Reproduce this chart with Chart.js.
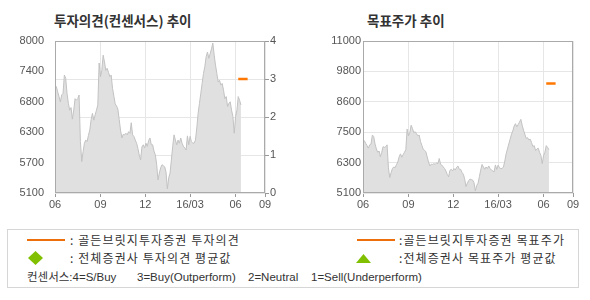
<!DOCTYPE html>
<html>
<head>
<meta charset="utf-8">
<script src="https://cdn.jsdelivr.net/npm/chart.js@4.4.1/dist/chart.umd.min.js"></script>
<style>
    body { margin: 0; background: #fff; width: 590px; height: 300px; position: relative; overflow: hidden; }
    .abs { position: absolute; white-space: pre; }
    .title { font: bold 13.5px "Noto Sans CJK KR", sans-serif; color: #333; top: 12px; line-height: 17px; }
    .legend-box { left: 7px; top: 229px; width: 570px; height: 57px; border: 1px solid #d6d6d6; }
    .leg { font: 12px "Noto Sans CJK KR", sans-serif; color: #333; line-height: 16px; letter-spacing: 1.1px; }
    .cons { font: 11.5px "Liberation Sans", "Noto Sans CJK KR", sans-serif; color: #333; line-height: 16px; top: 269px; }
    .line { height: 2px; width: 38px; background: #ec6f0c; top: 239px; }
</style>
</head>
<body>
<div class="abs title" style="left:54px">투자의견(컨센서스) 추이</div>
<div class="abs title" style="left:367px">목표주가 추이</div>

<div class="abs" style="left:0;top:0"><canvas id="opinionChart" width="295" height="215"></canvas></div>
<div class="abs" style="left:295px;top:0"><canvas id="targetChart" width="295" height="215"></canvas></div>

<div class="abs legend-box"></div>
<div class="abs line" style="left:27px"></div>
<div class="abs leg" style="left:70px;top:232px">: 골든브릿지투자증권 투자의견</div>
<div class="abs" style="left:28px;top:251px;width:15px;height:14px;background:#80c000;clip-path:polygon(50% 0,100% 50%,50% 100%,0 50%)"></div>
<div class="abs leg" style="left:70px;top:250px">: 전체증권사 투자의견 평균값</div>
<div class="abs line" style="left:357px"></div>
<div class="abs leg" style="left:399px;top:232px">:골든브릿지투자증권 목표주가</div>
<div class="abs" style="left:356px;top:254px;width:15px;height:9px;background:#80c000;clip-path:polygon(50% 0,100% 100%,0 100%)"></div>
<div class="abs leg" style="left:399px;top:250px">:전체증권사 목표주가 평균값</div>
<div class="abs cons" style="left:27px">컨센서스:4=S/Buy</div>
<div class="abs cons" style="left:137px">3=Buy(Outperform)</div>
<div class="abs cons" style="left:248px">2=Neutral</div>
<div class="abs cons" style="left:311px">1=Sell(Underperform)</div>

<script>
// x axis labels (months) and their positions on the trading-day index
const xLabels = ['06', '09', '12', '16/03', '06', '09'];
const xTickIdx = [0, 34, 67.5, 101, 135, 157];

// daily close prices (one value per trading day)
const prices = [
    7100, 7130, 7030, 6940, 6840, 6970, 7000, 7350, 7290, 7000,
    6810, 6680, 6730, 6510, 6680, 6900, 6870, 6900, 6970, 6080,
    5700, 5890, 6050, 6110, 6080, 6200, 6300, 6500, 6620, 6490,
    6590, 6680, 6780, 7580, 7320, 7440, 7730, 7600, 7440, 7480,
    7400, 7320, 7350, 7100, 6950, 6800, 6760, 6700, 6500, 6300,
    6150, 6220, 6210, 6240, 6210, 6270, 6240, 6440, 6210, 6180,
    6110, 6050, 5950, 5820, 5730, 5980, 6020, 5960, 6050, 5990,
    6100, 6150, 6020, 6020, 5900, 5830, 5650, 5350, 5480, 5580,
    5640, 5620, 5600, 5500, 5180, 5390, 5480, 5730, 5990, 6210,
    6110, 6020, 6110, 6050, 6150, 6050, 5990, 5960, 5920, 6190,
    6020, 6180, 6080, 6050, 6050, 6110, 6340, 6620, 6810, 7000,
    7190, 7380, 7510, 7700, 7790, 7670, 7760, 7850, 7960, 7730,
    7540, 7380, 7220, 7250, 7160, 7190, 7060, 6900, 6940, 6750,
    6810, 6840, 6680, 6560, 6240, 6560, 6680, 6940, 6870, 6780
];

// Goldenbridge opinion / target price marks
const markIdx = [137, 144];
const opinionMark = [3, 3];
const targetMark = [9350, 9350];

// axis ticks
const priceTicksLeft = [5100, 5680, 6260, 6840, 7420, 8000];
const opinionTicks = [0, 1, 2, 3, 4];
const targetTicks = [5100, 6280, 7460, 8640, 9820, 11000];

Chart.defaults.font.family = '"Liberation Sans", Arial, sans-serif';
Chart.defaults.font.size = 11;
Chart.defaults.color = '#555';

const pricePoints = prices.map((v, i) => ({ x: i, y: v }));

// frame around plot area
const framePlugin = {
    id: 'frame',
    afterDraw(chart) {
        const a = chart.chartArea;
        const c = chart.ctx;
        c.save();
        c.strokeStyle = '#aaaaaa';
        c.lineWidth = 1;
        c.strokeRect(Math.round(a.left) + 0.5, Math.round(a.top) + 0.5,
            Math.round(a.right - a.left) - 1, Math.round(a.bottom - a.top) - 1);
        c.restore();
    }
};

function roundLabel(v) {
    return Math.round(v / 100) * 100;
}

function xAxis() {
    return {
        type: 'linear',
        min: 0,
        max: 157,
        afterBuildTicks: s => { s.ticks = xTickIdx.map(v => ({ value: v })); },
        afterFit: s => { s.height = 22; },
        ticks: {
            padding: 1,
            maxRotation: 0,
            autoSkip: false,
            callback: (v, i) => xLabels[i]
        },
        grid: { color: '#e6e6e6', tickLength: 4, tickColor: '#999' },
        border: { display: false }
    };
}

const areaStyle = {
    borderColor: '#c2c2c2',
    borderWidth: 1,
    backgroundColor: '#e0e0e0',
    fill: 'start',
    pointRadius: 0,
    tension: 0
};

const markStyle = {
    borderColor: '#ff7700',
    borderWidth: 2.5,
    pointRadius: 0,
    fill: false
};

// Opinion (consensus) chart
const opinionCtx = document.getElementById('opinionChart').getContext('2d');
const opinionChart = new Chart(opinionCtx, {
    type: 'line',
    data: {
        datasets: [
            Object.assign({ label: '주가', data: pricePoints, yAxisID: 'y', order: 2 }, areaStyle),
            Object.assign({
                label: '투자의견',
                data: markIdx.map((x, i) => ({ x: x, y: opinionMark[i] })),
                yAxisID: 'y1',
                order: 1
            }, markStyle)
        ]
    },
    options: {
        responsive: false,
        animation: false,
        layout: { padding: { top: 41, left: 0, right: 0, bottom: 0 } },
        plugins: { legend: { display: false }, tooltip: { enabled: false } },
        scales: {
            x: xAxis(),
            y: {
                position: 'left',
                min: 5100,
                max: 8000,
                afterBuildTicks: s => { s.ticks = priceTicksLeft.map(v => ({ value: v })); },
                afterFit: s => { s.width = 55; },
                ticks: { padding: 3, callback: v => roundLabel(v) },
                grid: { display: false },
                border: { display: false }
            },
            y1: {
                position: 'right',
                min: 0,
                max: 4,
                afterBuildTicks: s => { s.ticks = opinionTicks.map(v => ({ value: v })); },
                afterFit: s => { s.width = 30; },
                ticks: { padding: 1 },
                grid: { color: '#e6e6e6', tickLength: 4, tickColor: '#999' },
                border: { display: false }
            }
        }
    },
    plugins: [framePlugin]
});

// Target price chart
const targetCtx = document.getElementById('targetChart').getContext('2d');
const targetChart = new Chart(targetCtx, {
    type: 'line',
    data: {
        datasets: [
            Object.assign({ label: '주가', data: pricePoints, order: 2 }, areaStyle),
            Object.assign({
                label: '목표주가',
                data: markIdx.map((x, i) => ({ x: x, y: targetMark[i] })),
                order: 1
            }, markStyle)
        ]
    },
    options: {
        responsive: false,
        animation: false,
        layout: { padding: { top: 41, left: 0, right: 17, bottom: 0 } },
        plugins: { legend: { display: false }, tooltip: { enabled: false } },
        scales: {
            x: xAxis(),
            y: {
                position: 'left',
                min: 5100,
                max: 11000,
                afterBuildTicks: s => { s.ticks = targetTicks.map(v => ({ value: v })); },
                afterFit: s => { s.width = 68; },
                ticks: { padding: 2, callback: v => roundLabel(v) },
                grid: { color: '#e6e6e6', drawTicks: false },
                border: { display: false }
            }
        }
    },
    plugins: [framePlugin]
});
</script>
</body>
</html>
